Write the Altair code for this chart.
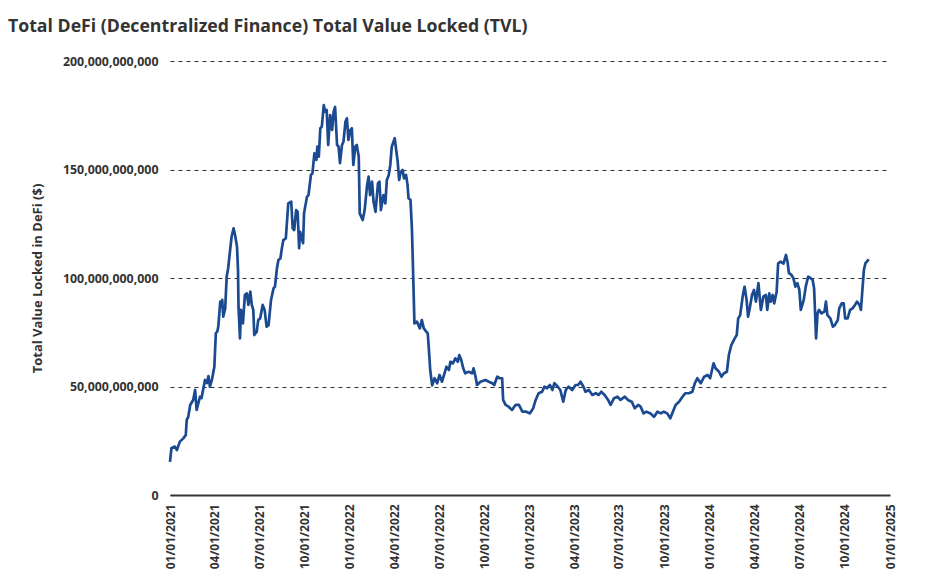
import altair as alt
import pandas as pd

TITLE = "Total DeFi (Decentralized Finance) Total Value Locked (TVL)"
Y_TITLE = "Total Value Locked in DeFi ($)"

dates = [
    "2021-01-01", "2021-01-04", "2021-01-11", "2021-01-15", "2021-01-21", "2021-01-28",
    "2021-02-02", "2021-02-04", "2021-02-07", "2021-02-11", "2021-02-17", "2021-02-21",
    "2021-02-24", "2021-03-03", "2021-03-06", "2021-03-13", "2021-03-17", "2021-03-20",
    "2021-03-23", "2021-03-27", "2021-04-01", "2021-04-04", "2021-04-07", "2021-04-09",
    "2021-04-13", "2021-04-16", "2021-04-17", "2021-04-19", "2021-04-23", "2021-04-26",
    "2021-04-29", "2021-05-03", "2021-05-06", "2021-05-10", "2021-05-13", "2021-05-17",
    "2021-05-19", "2021-05-20", "2021-05-23", "2021-05-25", "2021-05-29", "2021-06-02",
    "2021-06-06", "2021-06-09", "2021-06-13", "2021-06-16", "2021-06-19", "2021-06-21",
    "2021-06-26", "2021-06-29", "2021-07-03", "2021-07-08", "2021-07-12", "2021-07-16",
    "2021-07-20", "2021-07-25", "2021-07-30", "2021-08-02", "2021-08-06", "2021-08-09",
    "2021-08-13", "2021-08-16", "2021-08-19", "2021-08-24", "2021-08-29", "2021-09-04",
    "2021-09-07", "2021-09-10", "2021-09-14", "2021-09-17", "2021-09-20", "2021-09-22",
    "2021-09-28", "2021-09-30", "2021-10-06", "2021-10-09", "2021-10-14", "2021-10-17",
    "2021-10-21", "2021-10-25", "2021-10-27", "2021-10-30", "2021-11-02", "2021-11-05",
    "2021-11-09", "2021-11-12", "2021-11-15", "2021-11-18", "2021-11-22", "2021-11-26",
    "2021-11-29", "2021-12-02", "2021-12-06", "2021-12-09", "2021-12-12", "2021-12-16",
    "2021-12-19", "2021-12-23", "2021-12-26", "2021-12-29", "2022-01-02", "2022-01-05",
    "2022-01-08", "2022-01-12", "2022-01-15", "2022-01-19", "2022-01-21", "2022-01-27",
    "2022-01-31", "2022-02-05", "2022-02-08", "2022-02-11", "2022-02-15", "2022-02-18",
    "2022-02-22", "2022-02-27", "2022-03-02", "2022-03-05", "2022-03-10", "2022-03-14",
    "2022-03-17", "2022-03-21", "2022-03-24", "2022-03-27", "2022-04-02", "2022-04-05",
    "2022-04-08", "2022-04-11", "2022-04-14", "2022-04-18", "2022-04-21", "2022-04-25",
    "2022-04-28", "2022-04-30", "2022-05-04", "2022-05-07", "2022-05-09", "2022-05-12",
    "2022-05-17", "2022-05-23", "2022-05-27", "2022-05-31", "2022-06-05", "2022-06-08",
    "2022-06-10", "2022-06-13", "2022-06-17", "2022-06-22", "2022-06-27", "2022-07-02",
    "2022-07-07", "2022-07-12", "2022-07-16", "2022-07-21", "2022-07-24", "2022-07-29",
    "2022-08-03", "2022-08-08", "2022-08-11", "2022-08-15", "2022-08-19", "2022-08-23",
    "2022-08-30", "2022-09-06", "2022-09-09", "2022-09-13", "2022-09-16", "2022-09-23",
    "2022-10-03", "2022-10-10", "2022-10-17", "2022-10-21", "2022-10-27", "2022-11-01",
    "2022-11-06", "2022-11-08", "2022-11-13", "2022-11-19", "2022-11-26", "2022-12-03",
    "2022-12-10", "2022-12-17", "2022-12-25", "2023-01-01", "2023-01-08", "2023-01-13",
    "2023-01-19", "2023-01-26", "2023-01-31", "2023-02-05", "2023-02-11", "2023-02-16",
    "2023-02-20", "2023-02-27", "2023-03-04", "2023-03-10", "2023-03-15", "2023-03-21",
    "2023-03-28", "2023-04-04", "2023-04-09", "2023-04-14", "2023-04-20", "2023-04-24",
    "2023-05-01", "2023-05-08", "2023-05-15", "2023-05-21", "2023-05-26", "2023-06-02",
    "2023-06-09", "2023-06-14", "2023-06-21", "2023-06-28", "2023-07-04", "2023-07-13",
    "2023-07-19", "2023-07-27", "2023-08-02", "2023-08-09", "2023-08-14", "2023-08-20",
    "2023-08-26", "2023-09-03", "2023-09-10", "2023-09-17", "2023-09-24", "2023-09-30",
    "2023-10-07", "2023-10-13", "2023-10-17", "2023-10-24", "2023-10-31", "2023-11-07",
    "2023-11-13", "2023-11-20", "2023-11-27", "2023-12-02", "2023-12-07", "2023-12-14",
    "2023-12-21", "2023-12-28", "2024-01-02", "2024-01-09", "2024-01-13", "2024-01-20",
    "2024-01-25", "2024-01-30", "2024-02-05", "2024-02-09", "2024-02-14", "2024-02-21",
    "2024-02-25", "2024-02-28", "2024-03-03", "2024-03-08", "2024-03-11", "2024-03-12",
    "2024-03-16", "2024-03-19", "2024-03-23", "2024-03-27", "2024-03-31", "2024-04-04",
    "2024-04-09", "2024-04-14", "2024-04-19", "2024-04-24", "2024-04-27", "2024-05-01",
    "2024-05-04", "2024-05-08", "2024-05-11", "2024-05-16", "2024-05-19", "2024-05-24",
    "2024-05-30", "2024-06-04", "2024-06-07", "2024-06-10", "2024-06-15", "2024-06-19",
    "2024-06-23", "2024-06-27", "2024-07-01", "2024-07-04", "2024-07-10", "2024-07-14",
    "2024-07-19", "2024-07-24", "2024-07-28", "2024-07-31", "2024-08-04", "2024-08-07",
    "2024-08-10", "2024-08-15", "2024-08-21", "2024-08-24", "2024-08-27", "2024-09-02",
    "2024-09-07", "2024-09-11", "2024-09-17", "2024-09-20", "2024-09-25", "2024-09-29",
    "2024-10-02", "2024-10-07", "2024-10-12", "2024-10-17", "2024-10-22", "2024-10-26",
    "2024-10-31", "2024-11-03", "2024-11-05", "2024-11-09", "2024-11-12", "2024-11-15",
    "2024-11-19",
]

# TVL in billions of US dollars
tvl_billion = [
    15.3, 21.7, 22.3, 20.7, 24.6, 26.1,
    27.6, 34.6, 36.0, 41.5, 43.8, 48.4,
    39.2, 45.3, 44.7, 53.0, 51.6, 54.8,
    49.9, 53.0, 59.1, 74.6, 75.3, 77.6,
    89.1, 86.8, 89.9, 82.2, 86.0, 100.6,
    104.5, 112.9, 119.0, 122.9, 119.8, 114.4,
    103.7, 86.8, 72.2, 85.3, 79.1, 92.2,
    92.9, 87.6, 93.7, 87.6, 85.3, 73.7,
    75.3, 80.6, 81.4, 87.6, 85.3, 77.6,
    78.3, 89.9, 95.2, 96.0, 104.5, 108.3,
    109.0, 113.7, 117.5, 118.3, 134.4, 135.2,
    122.9, 122.1, 131.3, 130.5, 113.7, 121.3,
    116.0, 129.8, 137.5, 138.2, 147.5, 148.2,
    157.4, 154.4, 160.5, 155.9, 169.0, 169.7,
    179.7, 176.6, 177.4, 161.3, 175.1, 168.2,
    176.6, 178.8, 161.3, 160.5, 152.9, 161.3,
    162.8, 172.0, 173.6, 163.6, 168.2, 169.0,
    152.1, 160.5, 161.3, 155.9, 129.8, 126.7,
    131.3, 142.9, 146.7, 138.2, 144.4, 135.2,
    130.5, 143.6, 144.4, 131.3, 138.2, 134.4,
    145.2, 147.5, 152.1, 160.5, 164.4, 159.0,
    153.6, 145.2, 148.8, 149.8, 145.9, 147.5,
    142.9, 136.7, 135.9, 122.1, 105.2, 79.1,
    79.9, 76.8, 80.6, 76.8, 75.3, 74.5,
    68.3, 57.6, 50.5, 53.8, 51.5, 55.3,
    52.2, 56.1, 59.1, 57.6, 61.4, 60.7,
    63.0, 61.4, 64.5, 62.2, 58.4, 56.1,
    56.8, 56.1, 58.4, 54.5, 50.7, 52.2,
    53.0, 52.2, 51.5, 50.7, 54.5, 53.8,
    53.8, 43.8, 41.5, 40.7, 39.2, 41.5,
    41.5, 38.4, 38.4, 37.6, 40.0, 43.8,
    46.9, 47.6, 49.9, 49.2, 50.7, 48.4,
    51.5, 49.9, 48.4, 43.0, 48.4, 49.9,
    48.4, 50.7, 50.7, 52.2, 49.9, 47.6,
    48.4, 46.1, 46.9, 46.1, 47.6, 46.1,
    43.8, 41.5, 44.6, 45.3, 43.8, 45.3,
    43.8, 43.0, 40.0, 41.5, 40.7, 37.6,
    38.4, 37.6, 36.0, 38.4, 37.6, 38.4,
    37.6, 35.3, 37.6, 41.5, 43.0, 45.3,
    46.9, 46.9, 47.6, 51.5, 53.8, 51.5,
    54.5, 55.3, 53.8, 60.7, 58.4, 56.8,
    54.5, 56.1, 56.8, 64.5, 69.1, 72.2,
    73.7, 81.4, 82.9, 91.4, 95.2, 96.0,
    89.9, 82.2, 86.8, 92.2, 94.5, 89.1,
    97.6, 85.3, 91.4, 92.2, 85.3, 92.9,
    89.1, 92.2, 88.3, 93.7, 106.7, 107.5,
    106.7, 110.6, 107.5, 102.2, 101.4, 99.9,
    96.0, 97.6, 94.5, 85.3, 89.9, 96.0,
    100.6, 99.9, 99.1, 95.2, 72.2, 83.7,
    85.3, 83.7, 84.5, 89.1, 82.9, 81.4,
    77.6, 78.3, 80.6, 86.0, 88.3, 88.3,
    81.4, 81.4, 85.3, 86.0, 87.6, 89.1,
    87.6, 85.3, 91.4, 103.7, 106.7, 107.5,
    108.6,
]

x_tick_dates = [
    "2021-01-01", "2021-04-01", "2021-07-01", "2021-10-01",
    "2022-01-01", "2022-04-01", "2022-07-01", "2022-10-01",
    "2023-01-01", "2023-04-01", "2023-07-01", "2023-10-01",
    "2024-01-01", "2024-04-01", "2024-07-01", "2024-10-01",
    "2025-01-01",
]
y_ticks = [0, 50e9, 100e9, 150e9, 200e9]

df = pd.DataFrame({"date": dates, "tvl": [v * 1e9 for v in tvl_billion]})

FONT = "Open Sans"
TEXT = "#333333"

chart = (
    alt.Chart(df)
    .mark_line(color="#1b4a91", strokeWidth=2.7, strokeJoin="round")
    .encode(
        x=alt.X(
            "date:T",
            scale=alt.Scale(type="utc", domain=["2021-01-01", "2025-01-01"]),
            axis=alt.Axis(
                title=None,
                values=x_tick_dates,
                labelExpr="utcFormat(datum.value, '%m/%d/%Y')",
                labelAngle=-90,
                labelAlign="right",
                labelBaseline="middle",
                labelPadding=9,
                labelFont=FONT,
                labelFontWeight="bold",
                labelFontSize=12,
                labelColor=TEXT,
                labelOverlap=False,
                labelBound=False,
                labelFlush=False,
                ticks=False,
                grid=False,
                domain=True,
                domainColor="#333333",
                domainWidth=2,
            ),
        ),
        y=alt.Y(
            "tvl:Q",
            scale=alt.Scale(domain=[0, 200e9], nice=False, zero=True),
            axis=alt.Axis(
                title=Y_TITLE,
                titleFont=FONT,
                titleFontWeight="bold",
                titleFontSize=13,
                titleColor=TEXT,
                titlePadding=18,
                values=y_ticks,
                format=",.0f",
                labelFont=FONT,
                labelFontWeight="bold",
                labelFontSize=12.4,
                labelColor=TEXT,
                labelPadding=12,
                ticks=False,
                domain=False,
                grid=True,
                gridColor="#333333",
                gridDash=[4, 4],
                gridWidth=1,
            ),
        ),
    )
    .properties(
        width=720,
        height=434,
        autosize=alt.AutoSizeParams(type="none"),
        padding={"left": 170, "top": 61, "right": 38, "bottom": 86},
        title=alt.TitleParams(
            text=TITLE,
            anchor="start",
            frame="group",
            font=FONT,
            fontSize=17.7,
            fontWeight="bold",
            color=TEXT,
            dx=-162,
            offset=19,
        ),
    )
    .configure_view(stroke=None)
)

chart.save("out.html", embed_options={"renderer": "svg", "actions": False})
